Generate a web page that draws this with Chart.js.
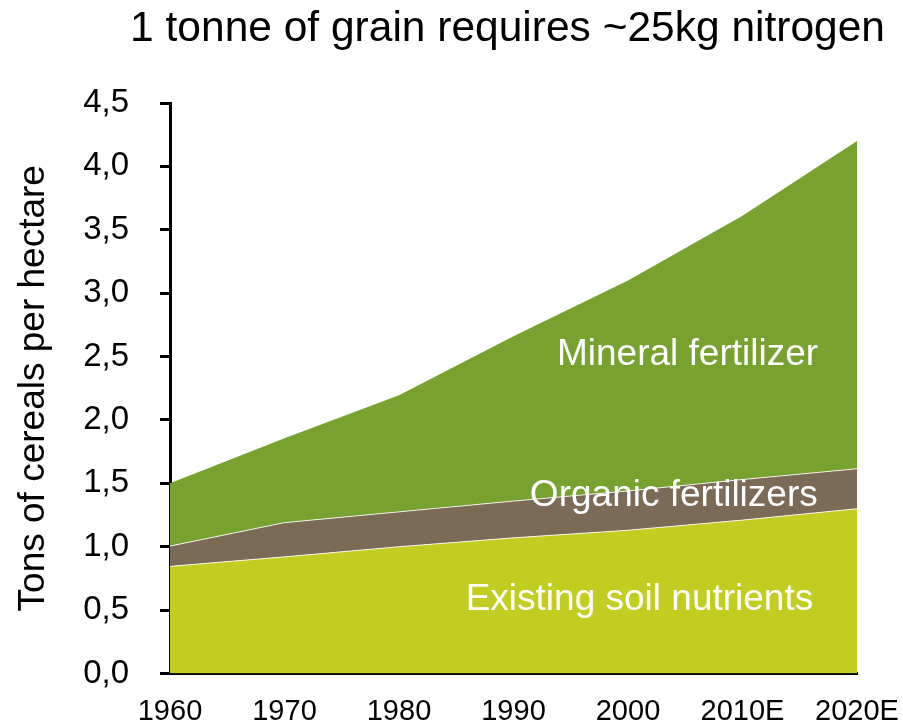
<!DOCTYPE html>
<html>
<head>
<meta charset="utf-8">
<script src="https://cdn.jsdelivr.net/npm/chart.js@4/dist/chart.umd.min.js"></script>
<style>
  html, body { margin: 0; padding: 0; background: #ffffff; }
  #wrap { width: 903px; height: 725px; position: relative; }
</style>
</head>
<body>
<div id="wrap"><canvas id="c" width="903" height="725"></canvas></div>
<script>
const categories = ['1960', '1970', '1980', '1990', '2000', '2010E', '2020E'];
// Layer thickness (tons of cereals per hectare), stacked bottom to top
const soilNutrients = [0.845, 0.92, 1.0, 1.07, 1.13, 1.21, 1.30];
const organicFertilizers = [0.16, 0.27, 0.275, 0.29, 0.31, 0.32, 0.315];
const mineralFertilizer = [0.495, 0.665, 0.92, 1.30, 1.66, 2.08, 2.585];
const yTicks = [0, 0.5, 1.0, 1.5, 2.0, 2.5, 3.0, 3.5, 4.0, 4.5];
const seriesNames = ['Existing soil nutrients', 'Organic fertilizers', 'Mineral fertilizer'];
// In-chart label anchors: [category index (fractional), y value]
const labelAnchors = [[4.10, 0.585], [4.40, 1.405], [4.52, 2.515]];

const FONT = "'Liberation Sans', Arial, sans-serif";

const areaLabels = {
  id: 'areaLabels',
  afterDatasetsDraw(chart) {
    const ctx = chart.ctx;
    const xs = chart.scales.x, ys = chart.scales.y;
    ctx.save();
    ctx.fillStyle = '#ffffff';
    ctx.font = '37px ' + FONT;
    ctx.textAlign = 'center';
    ctx.textBaseline = 'middle';
    seriesNames.forEach((name, i) => {
      const a = labelAnchors[i];
      ctx.fillText(name, xs.getPixelForValue(a[0]), ys.getPixelForValue(a[1]));
    });
    ctx.restore();
  }
};

new Chart(document.getElementById('c'), {
  type: 'line',
  data: {
    labels: categories,
    datasets: [
      { label: seriesNames[0], data: soilNutrients, backgroundColor: '#C2CD22', borderColor: 'rgba(255,255,255,0.85)', borderWidth: 1, fill: 'origin', pointRadius: 0, tension: 0 },
      { label: seriesNames[1], data: organicFertilizers, backgroundColor: '#7B6A56', borderColor: 'rgba(255,255,255,0.85)', borderWidth: 1, fill: '-1', pointRadius: 0, tension: 0 },
      { label: seriesNames[2], data: mineralFertilizer, backgroundColor: '#78A230', borderColor: '#78A230', borderWidth: 0, fill: '-1', pointRadius: 0, tension: 0 }
    ]
  },
  options: {
    responsive: false,
    animation: false,
    devicePixelRatio: 1,
    layout: { padding: { left: 0, right: 18, top: 0, bottom: 0 } },
    plugins: {
      legend: { display: false },
      tooltip: { enabled: false },
      title: {
        display: true,
        text: '1 tonne of grain requires ~25kg nitrogen',
        color: '#000000',
        font: { family: FONT, size: 42.5, weight: 'normal' },
        padding: { top: 4, bottom: 48 },
        align: 'end'
      }
    },
    scales: {
      x: {
        type: 'category',
        offset: false,
        grid: { display: false, drawTicks: false },
        border: { display: true, color: '#000000', width: 3 },
        ticks: { color: '#000000', font: { family: FONT, size: 29 }, padding: 21, maxRotation: 0, autoSkip: false },
        afterFit(scale) { scale.height = 51.5; scale.paddingRight = 46; scale.paddingLeft = 0; }
      },
      y: {
        stacked: true,
        min: 0,
        max: 4.5,
        afterBuildTicks(scale) { scale.ticks = yTicks.map(v => ({ value: v })); },
        grid: { display: true, drawOnChartArea: false, drawTicks: true, tickLength: 10, color: '#000000', lineWidth: 3 },
        border: { display: true, color: '#000000', width: 3 },
        ticks: {
          color: '#000000',
          font: { family: FONT, size: 33 },
          padding: 31,
          callback: (v) => Number(v).toFixed(1).replace('.', ',')
        },
        title: {
          display: true,
          text: 'Tons of cereals per hectare',
          color: '#000000',
          font: { family: FONT, size: 37 },
          padding: { top: 12, bottom: 0 }
        },
        afterFit(scale) { scale.width = 170; }
      }
    }
  },
  plugins: [areaLabels]
});
</script>
</body>
</html>
